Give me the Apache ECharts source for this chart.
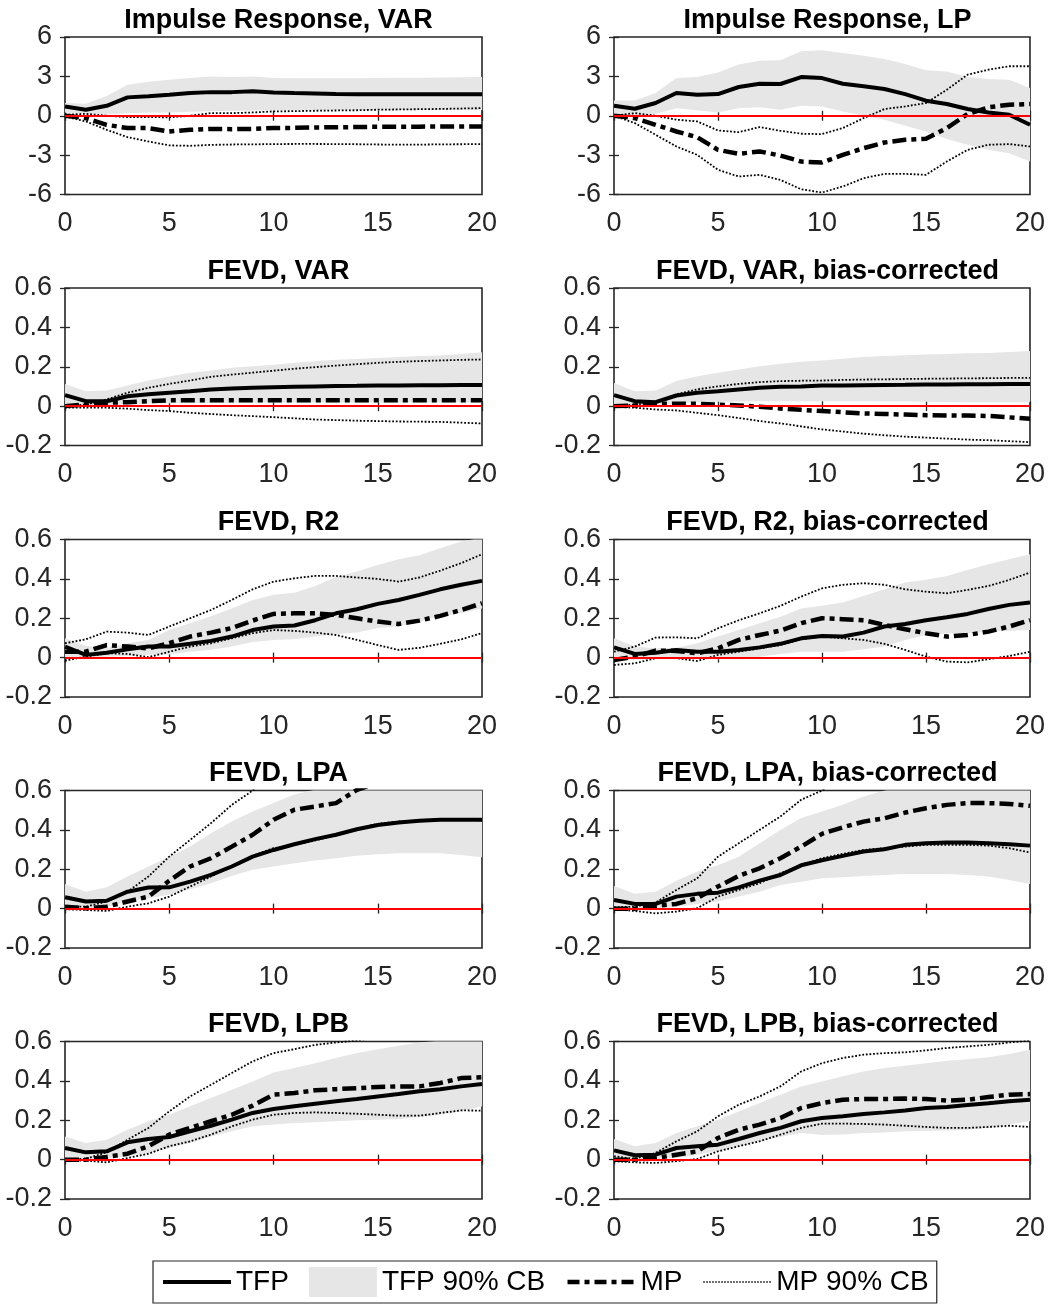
<!DOCTYPE html>
<html><head><meta charset="utf-8">
<script src="https://cdn.jsdelivr.net/npm/echarts@6/dist/echarts.min.js"></script>
<style>html,body{margin:0;padding:0;background:#fff}#c{width:1048px;height:1309px}</style>
</head><body><div id="c"></div><script>
// ---------- DATA ----------
const horizons = [0,1,2,3,4,5,6,7,8,9,10,11,12,13,14,15,16,17,18,19,20];
const panelTitles = ['Impulse Response, VAR','Impulse Response, LP','FEVD, VAR','FEVD, VAR, bias-corrected','FEVD, R2','FEVD, R2, bias-corrected','FEVD, LPA','FEVD, LPA, bias-corrected','FEVD, LPB','FEVD, LPB, bias-corrected'];
const irTicks = [-6,-3,0,3,6];
const fevdTicks = [-0.2,0,0.2,0.4,0.6];
const xTicks = [0,5,10,15,20];
const legendNames = ['TFP','TFP 90% CB','MP','MP 90% CB'];

// Impulse Response, VAR
const irVarTfp   = [0.71,0.46,0.76,1.40,1.48,1.60,1.73,1.80,1.80,1.86,1.78,1.73,1.70,1.65,1.63,1.63,1.63,1.63,1.63,1.63,1.63];
const irVarTfpHi = [0.97,0.92,1.50,2.37,2.60,2.75,2.87,3.00,2.95,3.00,2.87,2.85,2.85,2.85,2.85,2.88,2.90,2.90,2.92,2.93,2.95];
const irVarTfpLo = [0.25,0.15,0.10,0.20,0.25,0.25,0.30,0.35,0.38,0.40,0.42,0.43,0.43,0.43,0.43,0.43,0.43,0.43,0.43,0.43,0.43];
const irVarMp    = [0,-0.18,-0.69,-0.94,-0.94,-1.20,-1.07,-1.00,-1.02,-1.00,-0.94,-0.92,-0.89,-0.88,-0.86,-0.84,-0.84,-0.83,-0.82,-0.82,-0.81];
const irVarMpHi  = [0.08,0.15,0.0,-0.10,-0.10,-0.12,0.0,0.20,0.20,0.25,0.33,0.35,0.38,0.40,0.42,0.46,0.48,0.50,0.52,0.55,0.58];
const irVarMpLo  = [-0.05,-0.43,-1.07,-1.63,-1.96,-2.26,-2.29,-2.22,-2.19,-2.18,-2.16,-2.15,-2.15,-2.16,-2.17,-2.19,-2.20,-2.20,-2.18,-2.17,-2.16];

// Impulse Response, LP
const irLpTfp   = [0.76,0.53,0.97,1.73,1.60,1.65,2.19,2.44,2.42,2.95,2.87,2.44,2.24,2.04,1.65,1.15,0.89,0.51,0.25,0.08,-0.69];
const irLpTfpHi = [1.17,1.17,1.73,2.87,2.95,3.30,3.90,4.20,4.23,4.91,4.99,4.78,4.58,4.33,3.94,3.46,3.38,2.95,2.80,2.75,2.11];
const irLpTfpLo = [0.08,-0.05,0.13,0.58,0.41,0.25,0.58,0.64,0.46,0.76,0.71,0.33,0.0,-0.30,-0.76,-1.20,-1.78,-2.21,-2.60,-2.85,-3.49];
const irLpMp    = [0,-0.18,-0.69,-1.20,-1.63,-2.60,-2.90,-2.72,-3.03,-3.49,-3.56,-2.98,-2.47,-2.04,-1.83,-1.76,-0.94,0.13,0.64,0.84,0.89];
const irLpMpHi  = [0,0.20,0,-0.30,-0.43,-1.12,-1.25,-0.86,-1.15,-1.37,-1.40,-0.94,-0.18,0.51,0.71,0.97,1.98,3.13,3.51,3.77,3.77];
const irLpMpLo  = [0,-0.56,-1.45,-2.34,-2.98,-4.12,-4.63,-4.50,-4.89,-5.60,-5.85,-5.39,-4.76,-4.43,-4.43,-4.50,-3.49,-2.60,-2.21,-2.16,-2.34];

// FEVD, VAR
const fvVarTfp   = [0.056,0.025,0.025,0.050,0.060,0.068,0.076,0.085,0.090,0.093,0.096,0.098,0.100,0.102,0.103,0.105,0.105,0.106,0.106,0.107,0.107];
const fvVarTfpHi = [0.113,0.076,0.080,0.105,0.130,0.150,0.170,0.180,0.195,0.203,0.210,0.220,0.228,0.235,0.240,0.245,0.250,0.254,0.257,0.265,0.274];
const fvVarTfpLo = [0.0,0.0,0.005,0.010,0.012,0.014,0.015,0.016,0.017,0.017,0.018,0.018,0.018,0.018,0.018,0.018,0.018,0.018,0.018,0.018,0.018];
const fvVarMp    = [0,0.008,0.017,0.020,0.025,0.030,0.030,0.030,0.030,0.030,0.030,0.030,0.030,0.030,0.030,0.030,0.030,0.030,0.030,0.030,0.030];
const fvVarMpHi  = [0,0.008,0.034,0.068,0.093,0.113,0.130,0.149,0.160,0.170,0.180,0.190,0.198,0.206,0.213,0.220,0.225,0.229,0.232,0.235,0.237];
const fvVarMpLo  = [-0.008,-0.008,-0.008,-0.013,-0.020,-0.025,-0.034,-0.040,-0.046,-0.051,-0.056,-0.062,-0.068,-0.071,-0.074,-0.076,-0.078,-0.079,-0.080,-0.084,-0.088];

// FEVD, VAR, bias-corrected
const fvVarBcTfp   = [0.056,0.025,0.020,0.054,0.068,0.076,0.085,0.093,0.098,0.100,0.105,0.105,0.106,0.107,0.108,0.110,0.110,0.111,0.111,0.112,0.112];
const fvVarBcTfpHi = [0.118,0.076,0.080,0.127,0.152,0.170,0.186,0.203,0.215,0.225,0.232,0.241,0.250,0.254,0.258,0.262,0.265,0.268,0.270,0.275,0.280];
const fvVarBcTfpLo = [0.0,0.0,0.005,0.015,0.020,0.022,0.024,0.025,0.025,0.025,0.025,0.025,0.025,0.024,0.023,0.022,0.021,0.020,0.020,0.020,0.020];
const fvVarBcMp    = [0,0.003,0.012,0.012,0.012,0.008,0.003,-0.003,-0.012,-0.019,-0.025,-0.031,-0.037,-0.040,-0.043,-0.046,-0.047,-0.048,-0.050,-0.057,-0.064];
const fvVarBcMpHi  = [0,0.008,0.020,0.060,0.085,0.100,0.113,0.122,0.127,0.129,0.130,0.133,0.135,0.136,0.138,0.139,0.140,0.141,0.142,0.143,0.144];
const fvVarBcMpLo  = [-0.003,-0.008,-0.017,-0.022,-0.034,-0.046,-0.060,-0.076,-0.088,-0.103,-0.118,-0.129,-0.140,-0.148,-0.155,-0.160,-0.165,-0.170,-0.173,-0.178,-0.183];

// FEVD, R2
const fvR2Tfp   = [0.056,0.014,0.025,0.042,0.056,0.056,0.070,0.085,0.107,0.140,0.158,0.163,0.190,0.225,0.246,0.273,0.293,0.319,0.347,0.370,0.390];
const fvR2TfpHi = [0.098,0.060,0.047,0.073,0.090,0.140,0.175,0.210,0.250,0.293,0.320,0.330,0.364,0.410,0.437,0.470,0.500,0.520,0.555,0.590,0.610];
const fvR2TfpLo = [0,0,0.005,0.008,0.014,0.016,0.030,0.040,0.056,0.080,0.090,0.093,0.107,0.120,0.127,0.150,0.158,0.183,0.210,0.225,0.250];
const fvR2Mp    = [0.030,0.030,0.064,0.056,0.047,0.073,0.107,0.127,0.150,0.188,0.222,0.225,0.225,0.217,0.200,0.183,0.171,0.188,0.212,0.242,0.276];
const fvR2MpHi  = [0.073,0.093,0.132,0.127,0.115,0.158,0.200,0.242,0.293,0.347,0.386,0.403,0.415,0.415,0.407,0.400,0.386,0.407,0.442,0.480,0.525];
const fvR2MpLo  = [-0.015,0.005,0.022,0.019,0.002,0.030,0.056,0.073,0.098,0.124,0.140,0.136,0.127,0.115,0.090,0.064,0.039,0.050,0.070,0.093,0.124];

// FEVD, R2, bias-corrected
const fvR2BcTfp   = [0.052,0.019,0.025,0.039,0.030,0.030,0.039,0.052,0.070,0.098,0.110,0.107,0.127,0.158,0.171,0.190,0.205,0.222,0.247,0.268,0.280];
const fvR2BcTfpHi = [0.098,0.056,0.047,0.050,0.073,0.107,0.140,0.175,0.208,0.250,0.263,0.280,0.313,0.347,0.381,0.395,0.415,0.445,0.474,0.500,0.525];
const fvR2BcTfpLo = [-0.012,-0.010,-0.008,-0.008,-0.008,-0.008,-0.008,0.005,0.019,0.030,0.030,0.030,0.042,0.056,0.090,0.115,0.124,0.124,0.132,0.137,0.140];
const fvR2BcMp    = [-0.012,0.005,0.036,0.034,0.022,0.047,0.090,0.115,0.137,0.175,0.200,0.195,0.190,0.166,0.144,0.124,0.107,0.115,0.132,0.158,0.190];
const fvR2BcMpHi  = [0.030,0.056,0.102,0.103,0.098,0.149,0.190,0.225,0.263,0.310,0.352,0.370,0.378,0.370,0.347,0.335,0.327,0.344,0.364,0.395,0.432];
const fvR2BcMpLo  = [-0.037,-0.029,-0.003,-0.003,-0.017,0.014,0.030,0.047,0.064,0.093,0.107,0.098,0.090,0.070,0.039,0.005,-0.020,-0.024,-0.008,0.008,0.030];

// FEVD, LPA
const fvLpaTfp   = [0.058,0.036,0.040,0.086,0.107,0.108,0.137,0.171,0.214,0.264,0.298,0.327,0.353,0.375,0.403,0.425,0.437,0.446,0.451,0.451,0.452];
const fvLpaTfpHi = [0.125,0.086,0.108,0.163,0.214,0.264,0.315,0.383,0.442,0.493,0.536,0.580,0.605,0.630,0.650,0.670,0.680,0.690,0.690,0.680,0.670];
const fvLpaTfpLo = [0,0,0.010,0.036,0.053,0.070,0.098,0.129,0.166,0.197,0.214,0.231,0.244,0.256,0.268,0.276,0.281,0.281,0.281,0.273,0.261];
const fvLpaMp    = [0.010,0.002,0.010,0.036,0.061,0.142,0.214,0.256,0.315,0.375,0.451,0.502,0.519,0.536,0.603,0.640,0.670,0.690,0.700,0.710,0.720];
const fvLpaMpHi  = [0.010,0.010,0.036,0.086,0.163,0.264,0.349,0.434,0.527,0.600,0.680,0.750,0.800,0.840,0.880,0.900,0.920,0.930,0.940,0.950,0.950];
const fvLpaMpLo  = [-0.003,-0.007,-0.012,0.010,0.027,0.061,0.112,0.163,0.217,0.268,0.307,0.324,0.346,0.375,0.405,0.431,0.442,0.447,0.454,0.454,0.447];

// FEVD, LPA, bias-corrected
const fvLpaBcTfp   = [0.044,0.024,0.024,0.061,0.075,0.081,0.108,0.142,0.171,0.220,0.246,0.268,0.290,0.302,0.324,0.332,0.336,0.336,0.332,0.327,0.320];
const fvLpaBcTfpHi = [0.115,0.075,0.086,0.142,0.188,0.220,0.264,0.332,0.400,0.460,0.493,0.527,0.570,0.600,0.620,0.630,0.640,0.640,0.630,0.620,0.610];
const fvLpaBcTfpLo = [0,0,0,0.010,0.024,0.036,0.061,0.086,0.120,0.136,0.154,0.159,0.166,0.171,0.176,0.176,0.176,0.171,0.163,0.146,0.125];
const fvLpaBcMp    = [0,0,0.014,0.024,0.053,0.112,0.166,0.205,0.256,0.315,0.380,0.413,0.442,0.459,0.488,0.510,0.527,0.536,0.536,0.532,0.522];
const fvLpaBcMpHi  = [0.007,0.010,0.031,0.095,0.154,0.264,0.332,0.400,0.468,0.553,0.600,0.660,0.720,0.760,0.800,0.830,0.850,0.860,0.870,0.870,0.860];
const fvLpaBcMpLo  = [-0.003,-0.012,-0.024,-0.015,0.002,0.061,0.095,0.129,0.180,0.220,0.256,0.278,0.298,0.307,0.315,0.324,0.324,0.324,0.320,0.307,0.285];

// FEVD, LPB
const fvLpbTfp   = [0.059,0.037,0.042,0.088,0.105,0.115,0.144,0.172,0.203,0.237,0.257,0.271,0.284,0.296,0.308,0.321,0.333,0.347,0.358,0.372,0.384];
const fvLpbTfpHi = [0.118,0.085,0.101,0.152,0.195,0.228,0.271,0.313,0.355,0.397,0.443,0.465,0.490,0.516,0.541,0.561,0.578,0.595,0.605,0.610,0.610];
const fvLpbTfpLo = [0,0,0.004,0.017,0.034,0.059,0.085,0.118,0.144,0.169,0.178,0.186,0.190,0.195,0.200,0.203,0.206,0.216,0.228,0.245,0.271];
const fvLpbMp    = [0,0,0.014,0.030,0.068,0.127,0.161,0.195,0.228,0.274,0.330,0.338,0.352,0.358,0.363,0.369,0.372,0.372,0.389,0.414,0.419];
const fvLpbMpHi  = [0.004,0.004,0.037,0.101,0.161,0.245,0.321,0.380,0.440,0.499,0.541,0.561,0.583,0.595,0.605,0.620,0.630,0.640,0.650,0.655,0.660];
const fvLpbMpLo  = [-0.005,-0.005,-0.014,0.008,0.030,0.068,0.093,0.127,0.169,0.203,0.228,0.237,0.240,0.237,0.233,0.228,0.223,0.223,0.237,0.250,0.249];

// FEVD, LPB, bias-corrected
const fvLpbBcTfp   = [0.047,0.022,0.025,0.059,0.068,0.076,0.105,0.135,0.161,0.195,0.211,0.220,0.232,0.240,0.250,0.262,0.267,0.277,0.286,0.296,0.304];
const fvLpbBcTfpHi = [0.105,0.068,0.085,0.135,0.169,0.203,0.245,0.287,0.330,0.372,0.397,0.423,0.448,0.465,0.477,0.490,0.502,0.510,0.520,0.537,0.558];
const fvLpbBcTfpLo = [0,0,0.004,0.008,0.025,0.042,0.068,0.093,0.115,0.135,0.125,0.127,0.135,0.138,0.144,0.147,0.148,0.152,0.161,0.178,0.195];
const fvLpbBcMp    = [0,0,0.008,0.025,0.042,0.110,0.152,0.178,0.211,0.262,0.287,0.304,0.308,0.308,0.310,0.308,0.300,0.304,0.318,0.330,0.333];
const fvLpbBcMpHi  = [0.017,0.004,0.034,0.093,0.144,0.220,0.279,0.321,0.372,0.448,0.490,0.516,0.533,0.541,0.545,0.555,0.567,0.575,0.583,0.595,0.605];
const fvLpbBcMpLo  = [-0.008,-0.014,-0.017,-0.008,0.003,0.042,0.068,0.093,0.127,0.161,0.183,0.183,0.181,0.178,0.172,0.166,0.161,0.161,0.166,0.172,0.166];

// ---------- BUILD ----------
const panelData = [
  [irVarTfp, irVarTfpLo, irVarTfpHi, irVarMp, irVarMpLo, irVarMpHi],
  [irLpTfp, irLpTfpLo, irLpTfpHi, irLpMp, irLpMpLo, irLpMpHi],
  [fvVarTfp, fvVarTfpLo, fvVarTfpHi, fvVarMp, fvVarMpLo, fvVarMpHi],
  [fvVarBcTfp, fvVarBcTfpLo, fvVarBcTfpHi, fvVarBcMp, fvVarBcMpLo, fvVarBcMpHi],
  [fvR2Tfp, fvR2TfpLo, fvR2TfpHi, fvR2Mp, fvR2MpLo, fvR2MpHi],
  [fvR2BcTfp, fvR2BcTfpLo, fvR2BcTfpHi, fvR2BcMp, fvR2BcMpLo, fvR2BcMpHi],
  [fvLpaTfp, fvLpaTfpLo, fvLpaTfpHi, fvLpaMp, fvLpaMpLo, fvLpaMpHi],
  [fvLpaBcTfp, fvLpaBcTfpLo, fvLpaBcTfpHi, fvLpaBcMp, fvLpaBcMpLo, fvLpaBcMpHi],
  [fvLpbTfp, fvLpbTfpLo, fvLpbTfpHi, fvLpbMp, fvLpbMpLo, fvLpbMpHi],
  [fvLpbBcTfp, fvLpbBcTfpLo, fvLpbBcTfpHi, fvLpbBcMp, fvLpbBcMpLo, fvLpbBcMpHi]
];

const FONT = '"Liberation Sans", Arial, Helvetica, sans-serif';
const colLeft = [65, 614];
const rowTop = [37, 288, 539.5, 790.5, 1041.5];
const gW = 417, gH = 157.5;
const BAND = '#e6e6e6';
const AXC = '#262626';
const TFP_STYLE = {color: '#000', width: 4, type: 'solid'};
const MP_STYLE = {color: '#000', width: 4.5, type: [14, 5, 5, 5]};
const CB_STYLE = {color: '#000', width: 1.8, type: [1.8, 1.8]};

const pairs = arr => horizons.map((h, k) => [h, arr[k]]);
const fmt = v => { const r = Math.round(v * 10) / 10; return r === 0 ? '0' : String(r); };

const bandRender = (params, api) => {
  if (params.dataIndexInside !== 0) return null;
  const n = params.dataInsideLength;
  const up = [], dn = [];
  for (let k = 0; k < n; k++) {
    up.push(api.coord([api.value(0, k), api.value(2, k)]));
    dn.push(api.coord([api.value(0, k), api.value(1, k)]));
  }
  return {type: 'polygon', shape: {points: up.concat(dn.reverse())}, style: {fill: BAND, stroke: null}};
};

const grids = [], xAxes = [], yAxes = [], titles = [], series = [];
panelData.forEach((d, i) => {
  const col = i % 2, row = Math.floor(i / 2);
  const left = colLeft[col], top = rowTop[row];
  grids.push({left, top, width: gW, height: gH, show: true, borderColor: AXC, borderWidth: 1.6, backgroundColor: '#fff', containLabel: false});
  const ticks = i < 2 ? irTicks : fevdTicks;
  const yMin = ticks[0], yMax = ticks[ticks.length - 1], yInt = ticks[1] - ticks[0];
  const baseX = {type: 'value', gridIndex: i, min: xTicks[0], max: xTicks[xTicks.length - 1], interval: xTicks[1] - xTicks[0],
    splitLine: {show: false}, axisLine: {show: false}, axisTick: {show: true, inside: true, length: 5, lineStyle: {color: AXC, width: 1.3}}};
  xAxes.push(Object.assign({}, baseX, {position: 'bottom', axisLabel: {show: true, margin: 16, color: AXC, fontSize: 27, fontFamily: FONT}}));
  xAxes.push(Object.assign({}, baseX, {position: 'top', axisLabel: {show: false}}));
  const baseY = {type: 'value', gridIndex: i, min: yMin, max: yMax, interval: yInt,
    splitLine: {show: false}, axisLine: {show: false}, axisTick: {show: true, inside: true, length: 5, lineStyle: {color: AXC, width: 1.3}}};
  yAxes.push(Object.assign({}, baseY, {position: 'left', axisLabel: {show: true, margin: 13, color: AXC, fontSize: 27, fontFamily: FONT, formatter: fmt}}));
  yAxes.push(Object.assign({}, baseY, {position: 'right', axisLabel: {show: false}}));
  titles.push({text: panelTitles[i], left: left + gW / 2, top: top - 35, textAlign: 'center',
    textStyle: {fontSize: 27, fontWeight: 'bold', color: '#000', fontFamily: FONT}});

  const [tfp, lo, hi, mp, mpLo, mpHi] = d;
  const xi = 2 * i, yi = 2 * i;
  const common = {type: 'line', xAxisIndex: xi, yAxisIndex: yi, showSymbol: false, symbol: 'none', silent: true, animation: false, clip: true};
  series.push({type: 'custom', name: 'TFP 90% CB', xAxisIndex: xi, yAxisIndex: yi, silent: true, animation: false, clip: true,
    itemStyle: {color: BAND}, encode: {x: 0, y: [1, 2]},
    data: horizons.map((h, k) => [h, lo[k], hi[k]]), renderItem: bandRender});
  series.push(Object.assign({}, common, {name: 'MP 90% CB', data: pairs(mpHi), itemStyle: {color: '#000'}, lineStyle: CB_STYLE}));
  series.push(Object.assign({}, common, {name: 'MP 90% CB', data: pairs(mpLo), itemStyle: {color: '#000'}, lineStyle: CB_STYLE}));
  series.push(Object.assign({}, common, {name: 'TFP', data: pairs(tfp), itemStyle: {color: '#000'}, lineStyle: TFP_STYLE}));
  series.push(Object.assign({}, common, {name: 'MP', data: pairs(mp), itemStyle: {color: '#000'}, lineStyle: MP_STYLE}));
  series.push(Object.assign({}, common, {name: '_zero', data: [], z: 5,
    markLine: {silent: true, symbol: 'none', animation: false, label: {show: false},
      lineStyle: {color: '#ff0000', width: 2, type: 'solid'}, data: [{yAxis: 0}]}}));
});

const chart = echarts.init(document.getElementById('c'), null, {renderer: 'canvas'});
chart.setOption({
  animation: false,
  backgroundColor: '#fff',
  title: titles,
  grid: grids,
  xAxis: xAxes,
  yAxis: yAxes,
  legend: {
    data: [
      {name: legendNames[0], itemStyle: {opacity: 0}, lineStyle: {color: '#000', width: 4, type: 'solid'}},
      {name: legendNames[1], icon: 'rect', itemStyle: {color: BAND}},
      {name: legendNames[2], itemStyle: {opacity: 0}, lineStyle: {color: '#000', width: 4.5, type: [12, 5, 5, 5]}},
      {name: legendNames[3], itemStyle: {opacity: 0}, lineStyle: {color: '#000', width: 1.5, type: [1.5, 1.5]}}
    ],
    left: 153, top: 1261, orient: 'horizontal',
    itemWidth: 68, itemHeight: 30, itemGap: 20,
    padding: [6, 8], borderColor: AXC, borderWidth: 1.2, backgroundColor: '#fff',
    selectedMode: false,
    textStyle: {fontSize: 28, color: '#000', fontFamily: FONT}
  },
  series: series
});
</script></body></html>
